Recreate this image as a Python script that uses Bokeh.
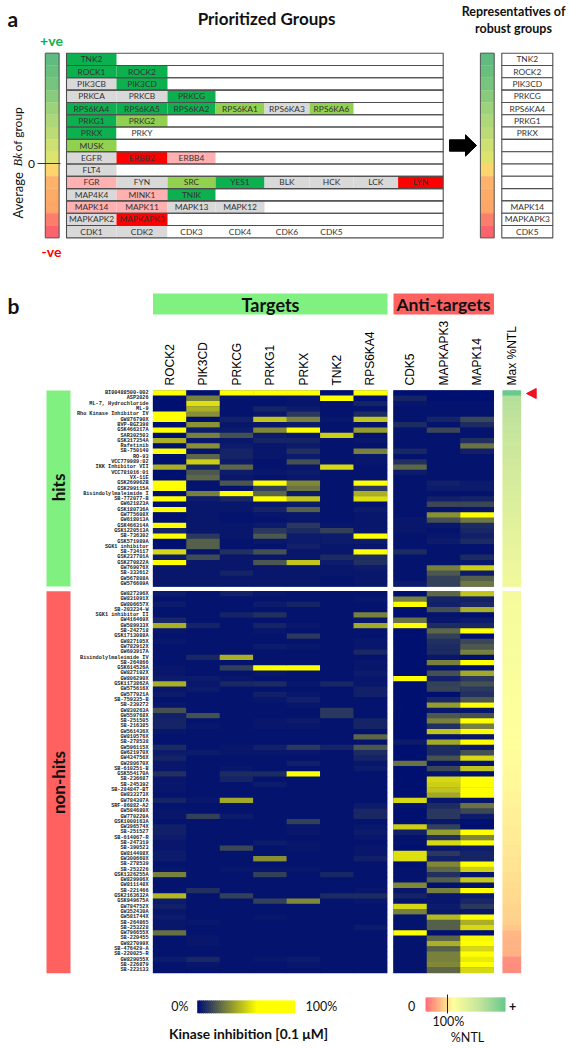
from math import pi
import numpy as np
from bokeh.plotting import figure
from bokeh.models import Range1d, LinearColorMapper, ColumnDataSource
from bokeh.core.properties import value
from bokeh.transform import transform
from bokeh.embed import file_html
from bokeh.resources import INLINE

# ---------- data ----------
group_names = [["TNK2"], ["ROCK1", "ROCK2"], ["PIK3CB", "PIK3CD"], ["PRKCA", "PRKCB", "PRKCG"],
    ["RPS6KA4", "RPS6KA5", "RPS6KA2", "RPS6KA1", "RPS6KA3", "RPS6KA6"], ["PRKG1", "PRKG2"], ["PRKX", "PRKY"],
    ["MUSK"], ["EGFR", "ERBB2", "ERBB4"], ["FLT4"], ["FGR", "FYN", "SRC", "YES1", "BLK", "HCK", "LCK", "LYN"],
    ["MAP4K4", "MINK1", "TNIK"], ["MAPK14", "MAPK11", "MAPK13", "MAPK12"], ["MAPKAPK2", "MAPKAPK3"],
    ["CDK1", "CDK2", "CDK3", "CDK4", "CDK6", "CDK5"]]
group_classes = ["G", "GG", "NG", "NNG", "GGGLNL", "GL", "GW", "L", "NRP", "N", "PNLGNNNR", "NPG", "PPNN", "NR", "NNWWWW"]
representatives = ["TNK2", "ROCK2", "PIK3CD", "PRKCG", "RPS6KA4", "PRKG1", "PRKX", "", "", "", "", "", "MAPK14", "MAPKAPK3", "CDK5"]

kinases = ["ROCK2", "PIK3CD", "PRKCG", "PRKG1", "PRKX", "TNK2", "RPS6KA4", "CDK5", "MAPKAPK3", "MAPK14"]

hits = ["BI00488500-002", "ASP3026", "ML-7, Hydrochloride", "ML-9", "Rho Kinase Inhibitor IV", "GW876790X", "BVP-BGZ398",
    "GSK466317A", "SAR302503", "GSK317354A", "Rafetinib", "SB-750140", "RO-93", "VCC779989:02", "IKK Inhibitor VII",
    "VCC781016:01", "VX-11E", "GSK269962B", "GSK299115A", "Bisindolylmaleimide I", "SB-772077-B", "GW621823A",
    "GSK180736A", "GW775608X", "GW618013A", "GSK466314A", "GSK1220513A", "SB-736302", "GSK571989A", "SGK1 inhibitor",
    "SB-734117", "GSK237701A", "GSK270822A", "GW769076X", "SB-333612", "GW567808A", "GW576609A"]
nonhits = ["GW827396X", "GW831091X", "GW806657X", "SB-203234-W", "SGK1 inhibitor II", "GW416469X", "GW589933X", "SB-242718",
    "GSK1713088A", "GW827105X", "GW782912X", "GW693917A", "Bisindolylmaleimide IV", "SB-264866", "GSK614526A", "GW827102X",
    "GW806290X", "GSK1173862A", "GW575616X", "GW577921A", "SB-759335-B", "SB-239272", "GW830263A", "GW559768X", "SB-251505",
    "SB-216385", "GW561436X", "GW810576X", "SB-278538", "GW596115X", "GW621970X", "GW434756X", "GW280670X", "SB-610251-B",
    "GSK554170A", "SB-236687", "SB-245392", "SB-284847-BT", "GW833373X", "GW784307A", "SRF-86882-A2", "GW584680X", "GW770220A",
    "GSK1000163A", "GW396574X", "SB-251527", "SB-614067-R", "SB-247319", "SB-390523", "GW814408X", "GW300660X", "SB-278539",
    "SB-253226", "GSK1326255A", "GW829906X", "GW811148X", "SB-221466", "GSK2163632A", "GSK949675A", "GW784752X", "GW352430A",
    "GW581744X", "SB-264865", "SB-253228", "GW796655X", "SB-220455", "GW827099X", "SB-476429-A", "SB-220025-R", "GW829055X",
    "SB-226879", "SB-223133"]

hits_rock2 = [100,0,0,0,100,100,0,100,0,40,0,100,0,0,40,0,0,100,100,0,100,0,100,0,0,100,5,100,0,0,50,3,100,2,2,2,2]
hits_pik3cd = [0,28,52,40,32,0,33,3,28,2,32,1,22,48,5,18,22,1,1,28,3,2,2,2,2,2,2,10,20,20,1,15,2,2,2,2,2]
hits_prkcg = [100,1,1,1,1,4,2,3,16,2,3,5,5,3,22,3,2,18,1,100,6,2,2,1,1,2,2,2,1,1,8,2,2,2,5,2,2]
hits_prkg1 = [100,1,1,5,2,45,2,30,3,5,2,2,2,1,1,2,1,100,12,22,100,2,5,2,1,3,10,18,2,1,16,2,18,2,2,2,2]
hits_prkx = [100,2,2,3,10,28,3,100,2,5,3,8,3,16,2,3,2,30,25,3,45,3,20,2,2,10,7,3,3,4,2,2,45,2,2,2,2]
hits_tnk2 = [0,100,1,1,1,2,1,1,48,1,1,1,1,1,50,1,1,1,1,1,1,1,1,1,1,2,12,3,3,2,2,7,3,2,2,1,1]
hits_rps6ka4 = [100,0,5,1,7,45,1,35,1,2,1,28,2,2,1,1,1,100,10,40,52,1,3,2,2,2,2,100,3,2,100,7,8,3,2,2,2]
hits_cdk5 = [0,5,2,1,1,1,7,1,1,1,1,6,1,8,22,3,1,1,1,1,1,1,1,1,2,2,2,1,1,1,7,1,1,1,1,1,3]
hits_mapkapk3 = [0,0,1,1,1,5,1,14,1,1,1,1,1,1,1,1,1,4,3,1,4,14,1,32,16,2,1,2,3,1,1,1,1,28,18,12,12]
hits_mapk14 = [0,0,1,1,1,14,7,1,1,8,25,4,1,1,1,1,1,3,3,1,5,14,2,100,26,7,6,4,7,1,1,7,2,48,3,20,26]

non_rock2 = [3,1,3,1,1,6,40,2,1,2,1,1,1,1,2,2,3,40,2,3,1,2,16,4,5,5,2,1,1,7,3,5,2,2,8,2,2,2,1,5,1,2,2,1,4,4,3,2,2,3,3,1,2,28,1,1,1,42,3,4,2,3,2,2,24,1,1,1,1,3,1,1]
non_pik3cd = [1,1,1,1,1,1,5,1,1,1,1,1,6,1,1,1,3,2,3,1,1,1,1,16,1,2,1,1,1,1,3,1,1,1,1,1,1,1,1,2,1,1,12,1,1,1,1,1,1,1,1,1,1,1,1,1,8,1,1,1,1,1,2,1,1,2,2,1,1,6,2,1]
non_prkcg = [4,1,1,1,5,1,1,1,1,1,1,1,40,1,12,1,2,6,1,1,1,1,1,1,1,1,1,1,1,2,2,1,1,2,7,5,1,1,1,38,1,1,3,1,1,1,1,1,14,1,1,1,2,1,1,1,1,12,1,1,1,1,1,1,1,1,1,1,1,1,1,1]
non_prkg1 = [2,1,3,1,8,1,5,2,1,1,3,1,1,1,100,2,1,7,1,4,2,1,1,1,2,2,1,1,1,4,2,1,1,1,7,1,3,1,1,1,1,1,1,1,1,1,1,3,1,1,32,1,2,12,1,1,1,1,12,1,1,2,1,1,1,1,1,1,1,2,1,1]
non_prkx = [1,1,5,1,1,1,2,1,10,1,2,1,1,1,100,1,1,2,1,2,4,2,1,1,3,2,1,1,1,10,2,1,4,1,100,1,1,1,1,1,1,1,1,12,2,2,1,2,2,1,1,1,2,1,1,1,1,1,30,1,1,1,1,1,1,1,1,1,1,3,2,1]
non_tnk2 = [1,1,1,1,1,1,1,1,1,1,1,1,1,1,1,1,1,6,1,1,1,1,10,10,1,1,1,1,1,5,1,1,1,1,1,1,1,1,1,1,1,1,1,1,1,1,1,1,1,1,1,1,1,6,1,1,1,7,1,1,1,1,1,1,1,1,1,1,1,1,1,1]
non_rps6ka4 = [1,2,1,1,28,2,38,1,1,2,2,6,1,2,2,3,2,2,4,4,1,1,1,1,5,5,1,22,1,18,7,5,2,3,1,1,1,1,1,1,3,6,6,1,2,3,2,1,2,2,4,1,1,1,1,1,2,7,2,1,1,1,1,3,1,1,1,1,1,1,1,1]
non_cdk5 = [0,28,60,0,0,25,100,0,0,0,0,0,0,0,0,0,100,0,0,0,0,0,0,0,0,0,0,0,3,0,0,0,25,0,0,0,0,0,0,50,1,0,0,0,48,4,1,1,0,52,52,0,1,1,1,30,2,5,1,50,28,1,1,1,100,1,1,1,1,1,1,1]
non_mapkapk3 = [22,5,4,16,1,2,7,22,12,8,7,7,2,28,1,16,4,12,13,0,6,35,2,18,28,8,45,1,38,7,7,17,1,14,1,50,48,45,38,2,7,10,10,2,12,35,8,50,2,10,4,30,22,8,20,0,28,2,2,3,2,42,20,20,0,22,40,20,28,28,30,22]
non_mapk14 = [45,4,6,40,0,3,6,100,0,14,18,28,0,100,0,38,10,16,10,8,18,100,2,16,100,28,100,2,100,3,16,50,1,45,0,100,100,100,100,2,25,14,3,0,0,100,30,100,3,5,5,100,48,1,46,1,100,3,6,10,2,100,40,50,0,58,100,50,100,55,100,50]

max_ntl_hits = [295,218,213,210,206,203,199,197,193,190,188,186,183,180,178,175,173,171,168,165,163,160,158,156,153,150,148,146,143,140,138,136,133,130,128,125,122]
max_ntl_non = [118,117,116,115,115,114,113,113,112,111,111,110,109,109,108,107,107,106,105,105,104,104,103,103,102,102,101,101,100,100,99,99,98,97,96,95,95,94,93,92,91,90,89,88,87,86,86,85,84,83,82,81,80,78,77,75,74,73,72,70,69,67,66,60,50,48,46,45,44,22,21,20]

bar_colors = ["#5fbb7f", "#68bf7e", "#76c47d", "#88cb7c", "#9cd27a", "#aed779", "#bcdb76", "#cfe072", "#dde46e",
    "#fdd56f", "#fdb169", "#fdac68", "#fda668", "#fb7d6b", "#f9646d"]

# ---------- layout constants (picture pixels) ----------
W, H = 570, 1048
p = figure(width=W, height=H, x_range=Range1d(0, W), y_range=Range1d(H, 0), output_backend="svg",
           toolbar_location=None, x_axis_type=None, y_axis_type=None, min_border=0, outline_line_color=None)
p.grid.visible = False

def txt(x, y, s, size, font="Lato", style="normal", color="#111111", align="center", angle=0, **kw):
    p.text(x=[x], y=[y], text=[s], text_font=value(font), text_font_style=style, text_font_size=f"{size}px",
           text_color=color, text_align=align, text_baseline="middle", angle=angle, **kw)

# ---------- panel a ----------
TOP, RH, NROW = 52.7, 12.31, 15
edges = [66, 116, 167, 215, 264, 309, 353, 397.6, 442.7]
fills = {"G": "#0db04f", "L": "#92d14f", "N": "#d9d9d9", "R": "#ff0000", "P": "#ffb0b0", "W": "#ffffff"}
cx, cy, cw, cf, cn = [], [], [], [], []
for i, (ns, cs) in enumerate(zip(group_names, group_classes)):
    for j, (n, c) in enumerate(zip(ns, cs)):
        cx.append((edges[j] + edges[j + 1]) / 2); cw.append(edges[j + 1] - edges[j])
        cy.append(TOP + RH * (i + .5)); cf.append(fills[c]); cn.append(n)
p.rect(cx, cy, width=cw, height=RH, fill_color=cf, line_color=None)
row_y = [TOP + RH * (i + .5) for i in range(NROW)]
p.rect([(edges[0] + edges[-1]) / 2] * NROW, row_y, width=edges[-1] - edges[0], height=RH,
       fill_color=None, line_color="#4d4d4d", line_width=1.1)
p.text(cx, cy, text=cn, text_font=value("Lato"), text_font_size="8.4px", text_color="#333333",
       text_align="center", text_baseline="middle")
for bx in (51.7, 486.8):
    p.rect([bx] * NROW, row_y, width=13.8, height=RH, fill_color=bar_colors, line_color=bar_colors, line_width=.3)
    p.rect([bx], [TOP + RH * NROW / 2], width=13.8, height=RH * NROW, fill_color=None, line_color="#555555", line_width=1)
p.rect([526.8] * NROW, row_y, width=51, height=RH, fill_color="white", line_color="#4d4d4d", line_width=1.1)
p.text([526.8] * NROW, row_y, text=representatives, text_font=value("Lato"), text_font_size="8.4px",
       text_color="#333333", text_align="center", text_baseline="middle")
p.patch([449, 465, 465, 476, 465, 465, 449], [139.3, 139.3, 134.3, 145, 155.7, 150.7, 150.7], color="black")
p.segment([37], [163], [60], [163], line_color="#333333", line_width=1)
txt(7, 18, "a", 21, style="bold", align="left")
txt(266, 18, "Prioritized Groups", 17, style="bold")
txt(513, 11, "Representatives of", 12.5, style="bold")
txt(513, 28, "robust groups", 12.5, style="bold")
txt(51, 40, "+ve", 14, style="bold", color="#0db04f")
txt(51, 251, "-ve", 14, style="bold", color="#ff0000")
txt(31, 163, "0", 12)
txt(17, 218, "Average", 13, align="left", angle=pi / 2)
txt(17, 166, "Bk", 12.5, font="Liberation Serif", style="italic", align="left", angle=pi / 2)
txt(17, 151, "of group", 12, align="left", angle=pi / 2)

# ---------- panel b ----------
COLW, ROWH = 33.45, 5.3
X0, Y0, ANTI_GAP, ROW_GAP = 152.5, 390, .19, .89
p.extra_x_ranges["cols"] = Range1d((0 - X0) / COLW, (W - X0) / COLW)
p.extra_y_ranges["rows"] = Range1d((H - Y0) / ROWH, (0 - Y0) / ROWH)

hits_cols = [hits_rock2, hits_pik3cd, hits_prkcg, hits_prkg1, hits_prkx, hits_tnk2, hits_rps6ka4, hits_cdk5, hits_mapkapk3, hits_mapk14]
non_cols = [non_rock2, non_pik3cd, non_prkcg, non_prkg1, non_prkx, non_tnk2, non_rps6ka4, non_cdk5, non_mapkapk3, non_mapk14]
col_pos = [i + .5 + (ANTI_GAP if i >= 7 else 0) for i in range(10)]
row_pos = [i + .5 for i in range(len(hits))] + [i + .5 + len(hits) + ROW_GAP for i in range(len(nonhits))]
values, xs, ys = [], [], []
for c, (a, b) in enumerate(zip(hits_cols, non_cols)):
    for r, v in enumerate(list(a) + list(b)):
        values.append(v); xs.append(col_pos[c]); ys.append(row_pos[r])

navy, yellow = np.array([0, 16, 112]), np.array([255, 255, 0])
heat_pal = ["#%02x%02x%02x" % tuple(int(round(k)) for k in navy + (yellow - navy) * t) for t in np.linspace(0, 1, 256)]
heat_map = LinearColorMapper(palette=heat_pal, low=0, high=60, high_color="#ffff00")

hex2 = lambda h: np.array([int(h[i:i + 2], 16) for i in (1, 3, 5)])
ntl_stops = [(0, "#ff7078"), (60, "#ffc888"), (100, "#ffff9c"), (200, "#c4e49c"), (300, "#66c88c")]
ntl_grid = np.linspace(0, 300, 256)
ntl_rgb = np.stack([np.interp(ntl_grid, [s[0] for s in ntl_stops], [hex2(s[1])[k] for s in ntl_stops]) for k in range(3)], 1)
ntl_pal = ["#%02x%02x%02x" % tuple(int(round(k)) for k in c) for c in ntl_rgb]
ntl_map = LinearColorMapper(palette=ntl_pal, low=0, high=300)

# navy blocks underneath so that antialiased cell edges never show the white page
p.quad(left=[0, 7.19], right=[7, 10.19], top=[0, 0], bottom=[len(hits)] * 2, fill_color="#00106f", line_color=None,
       x_range_name="cols", y_range_name="rows")
p.quad(left=[0, 7.19], right=[7, 10.19], top=[len(hits) + ROW_GAP] * 2, bottom=[len(hits) + ROW_GAP + len(nonhits)] * 2,
       fill_color="#00106f", line_color=None, x_range_name="cols", y_range_name="rows")
src = ColumnDataSource(dict(x=xs, y=ys, v=values))
p.rect("x", "y", width=1.01, height=1.08, source=src, fill_color=transform("v", heat_map), line_color=None,
       x_range_name="cols", y_range_name="rows")

ntl_src = ColumnDataSource(dict(y=row_pos, v=max_ntl_hits + max_ntl_non))
p.rect(511.3, "y", width=18.7, height=1.1, source=ntl_src, fill_color=transform("v", ntl_map),
       line_color=None, y_range_name="rows")

p.text(148, row_pos, text=hits + nonhits, text_font=value("Liberation Mono"), text_font_style="bold", text_font_size="5.2px",
       text_color="#222222", text_align="right", text_baseline="middle", y_range_name="rows")
p.text(col_pos, [(385 - Y0) / ROWH] * 10, text=kinases, text_font=value("Liberation Sans"), text_font_size="12px",
       text_color="#000000", text_align="left", text_baseline="middle", angle=pi / 2, x_range_name="cols", y_range_name="rows")
txt(511, 385, "Max %NTL", 12, font="Liberation Sans", color="#000000", align="left", angle=pi / 2)
p.patch([526, 535.7, 535.7], [393, 388, 398], color="#ee1122")

p.quad(left=[152.5, 393], right=[387, 493.5], top=[293, 293], bottom=[314, 314], fill_color=["#80f080", "#ff6060"], line_color=None)
p.quad(left=[46, 46], right=[70, 70], top=[390, 590.7], bottom=[586, 972.7], fill_color=["#80f080", "#ff6060"], line_color=None)
txt(7, 305, "b", 21, style="bold", align="left")
txt(270, 304, "Targets", 18, style="bold")
txt(443, 304, "Anti-targets", 17.5, style="bold")
txt(58, 487, "hits", 17, style="bold", angle=pi / 2)
txt(58, 782, "non-hits", 17, style="bold", angle=pi / 2)

# ---------- legends ----------
leg_v = np.arange(0, 100, 2.0)
leg_w = (295 - 196.7) / len(leg_v)
leg_l = [196.7 + i * leg_w for i in range(len(leg_v))]
leg_r = [min(a + leg_w + 1, 295) for a in leg_l]
p.quad(left=leg_l, right=leg_r, top=[1000] * len(leg_l), bottom=[1012.7] * len(leg_l),
       fill_color=[heat_pal[min(255, int(v / 60 * 255))] for v in leg_v], line_color=None)
ntl_v = np.arange(0, 300, 5.0)
ntl_w = (505 - 425) / len(ntl_v)
ntl_l = [425 + i * ntl_w for i in range(len(ntl_v))]
ntl_r = [min(a + ntl_w + 1, 505) for a in ntl_l]
p.quad(left=ntl_l, right=ntl_r, top=[997] * len(ntl_l), bottom=[1011] * len(ntl_l),
       fill_color=[ntl_pal[int(v / 300 * 255)] for v in ntl_v], line_color=None)
p.segment([447], [994], [447], [1013], line_color="#222222", line_width=1)
txt(188, 1006, "0%", 12.5, align="right")
txt(305, 1006, "100%", 12.5, align="left")
txt(248, 1033, "Kinase inhibition [0.1 μM]", 13.8, style="bold")
txt(411, 1005, "0", 12.5)
txt(512, 1005, "+", 12.5, style="bold")
txt(448, 1021, "100%", 12.5)
txt(467, 1037, "%NTL", 12.5)

open("out.html", "w").write(file_html(p, INLINE))
